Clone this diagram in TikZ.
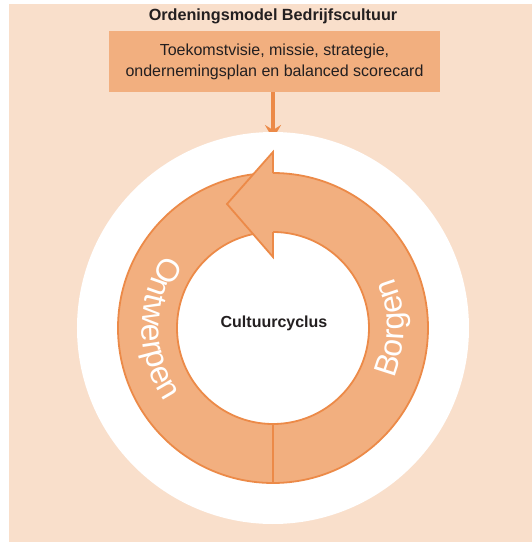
\documentclass[tikz,border=0pt]{standalone}
\usepackage{fontspec}
\setmainfont{Liberation Sans}
\usetikzlibrary{arrows.meta,decorations.text}
\definecolor{achtergrond}{HTML}{F9DFCB}
\definecolor{vlak}{HTML}{F2AF7F}
\definecolor{lijn}{HTML}{EC8A48}
\definecolor{tekst}{HTML}{231F20}

\begin{document}
\begin{tikzpicture}[x=1pt, y=1pt,
    opschrift/.style={text=tekst, font=\fontsize{16}{21}\selectfont, align=center},
    rand/.style={draw=lijn, line width=1.8pt}]
        
        % Achtergrond
        \useasboundingbox (-273,-214) rectangle (259,328);
        \fill[achtergrond] (-264,-214) rectangle (259,324);
        
        % Kop
        \node[opschrift, font=\fontsize{16.2}{21}\selectfont\bfseries] (title) at (0,312) {Ordeningsmodel Bedrijfscultuur};
        \node[opschrift, fill=vlak, minimum width=331pt, minimum height=61pt] (vision) at (1.5,266.5) {Toekomstvisie, missie, strategie,\\ondernemingsplan en balanced scorecard};
        \coordinate (entry) at (0,189);
        \draw[lijn, line width=4pt, -{Stealth[length=14pt, width=16pt, inset=5pt]}] (vision.south -| entry) -- (entry);
        
        % Cirkel
        \fill[white] (0,0) circle (196);
        \fill[vlak, even odd rule] (0,0) circle (155) (0,0) circle (96);
        \draw[rand] (0,0) circle (155) (0,0) circle (96);
        \draw[rand] (0,-96) -- (0,-155);
        
        % Pijlpunt
        \coordinate (p1) at (0,176);
        \coordinate (p2) at (-46,124);
        \coordinate (p3) at (0,71);
        \fill[vlak] (p1) -- (p2) -- (p3) -- cycle;
        \draw[rand, line join=miter] (0,155) -- (p1) -- (p2) -- (p3) -- (0,96);
        
        % Tekst op de ring
        \path[decorate, decoration={text along path, text align=center, text color=white,
            text={|\fontsize{32}{38}\selectfont|Ontwerpen}}]
            (125:131) arc[start angle=125, end angle=235, radius=131];
        \path[decorate, decoration={text along path, text align=center, text color=white,
            text={|\fontsize{32}{38}\selectfont|Borgen}}]
            (-55:131) arc[start angle=-55, end angle=55, radius=131];
        
        % Midden
        \node[opschrift, font=\fontsize{16}{21}\selectfont\bfseries] (cycle) at (1,5) {Cultuurcyclus};
        
    \end{tikzpicture}
\end{document}
